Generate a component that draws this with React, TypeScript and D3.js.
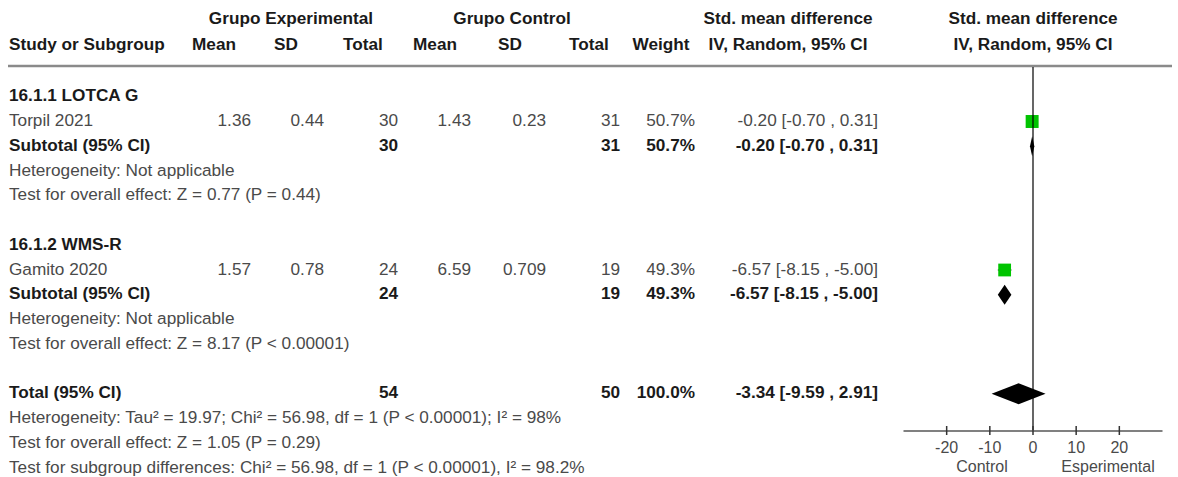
import React from "react";
import * as d3 from "d3";

// Forest plot: standardised mean difference, IV random effects
const subgroupTitles = ["16.1.1 LOTCA G", "16.1.2 WMS-R"];
const studyNames = ["Torpil 2021", "Gamito 2020"];
const expMean = ["1.36", "1.57"];
const expSD = ["0.44", "0.78"];
const expN = [30, 24];
const ctrlMean = ["1.43", "6.59"];
const ctrlSD = ["0.23", "0.709"];
const ctrlN = [31, 19];
const weights = [50.7, 49.3];
const smd = [-0.2, -6.57];
const ciLow = [-0.7, -8.15];
const ciHigh = [0.31, -5.0];
const subgroupHeterogeneity = ["Heterogeneity: Not applicable", "Heterogeneity: Not applicable"];
const subgroupEffect = [
  "Test for overall effect: Z = 0.77 (P = 0.44)",
  "Test for overall effect: Z = 8.17 (P < 0.00001)",
];

const totalExpN = 54;
const totalCtrlN = 50;
const totalWeight = 100.0;
const totalSmd = -3.34;
const totalLow = -9.59;
const totalHigh = 2.91;
const totalNotes = [
  "Heterogeneity: Tau² = 19.97; Chi² = 56.98, df = 1 (P < 0.00001); I² = 98%",
  "Test for overall effect: Z = 1.05 (P = 0.29)",
  "Test for subgroup differences: Chi² = 56.98, df = 1 (P < 0.00001), I² = 98.2%",
];

const axisTicks = [-20, -10, 0, 10, 20];
const axisDomain = [-30, 30];

const W = 1178;
const H = 477;
const FONT = "'Liberation Sans', Arial, Helvetica, sans-serif";
const FS = 17.2;
const AXIS_FS = 16;
const GREY = "#4a4a4a";
const DARK = "#1a1a1a";
const GREEN = "#00c400";

const fmt2 = (v: number) => v.toFixed(2);
const ciText = (m: number, lo: number, hi: number) => `${fmt2(m)} [${fmt2(lo)} , ${fmt2(hi)}]`;

export default function App() {
  const x = d3.scaleLinear().domain(axisDomain).range([903.5, 1162.5]);
  const row = d3.scaleLinear().domain([0, 15]).range([96.75, 468]);
  const boxSize = d3.scaleSqrt().domain([0, 100]).range([0, 18.2]);
  const axisY = 431;

  // right-aligned numeric columns
  const col = {
    expMean: 251,
    expSD: 324,
    expN: 398,
    ctrlMean: 471,
    ctrlSD: 546,
    ctrlN: 620,
    weight: 695,
    ci: 878,
  };

  const base = (r: number) => row(r) + 4.5;

  const T = (props: any) => (
    <text
      fontFamily={FONT}
      fontSize={FS}
      fill={props.bold ? DARK : GREY}
      fontWeight={props.bold ? "bold" : "normal"}
      textAnchor={props.anchor || "start"}
      x={props.x}
      y={props.y}
    >
      {props.children}
    </text>
  );

  const diamond = (m: number, lo: number, hi: number, cy: number, h: number) =>
    `M${x(lo)},${cy} L${x(m)},${cy - h} L${x(hi)},${cy} L${x(m)},${cy + h} Z`;

  const groups = subgroupTitles.map((title, i) => {
    const r0 = i * 6;
    return (
      <g key={title}>
        <T x={9} y={base(r0)} bold>{title}</T>
        <T x={9} y={base(r0 + 1)}>{studyNames[i]}</T>
        <T x={col.expMean} y={base(r0 + 1)} anchor="end">{expMean[i]}</T>
        <T x={col.expSD} y={base(r0 + 1)} anchor="end">{expSD[i]}</T>
        <T x={col.expN} y={base(r0 + 1)} anchor="end">{expN[i]}</T>
        <T x={col.ctrlMean} y={base(r0 + 1)} anchor="end">{ctrlMean[i]}</T>
        <T x={col.ctrlSD} y={base(r0 + 1)} anchor="end">{ctrlSD[i]}</T>
        <T x={col.ctrlN} y={base(r0 + 1)} anchor="end">{ctrlN[i]}</T>
        <T x={col.weight} y={base(r0 + 1)} anchor="end">{weights[i].toFixed(1)}%</T>
        <T x={col.ci} y={base(r0 + 1)} anchor="end">{ciText(smd[i], ciLow[i], ciHigh[i])}</T>

        <T x={9} y={base(r0 + 2)} bold>Subtotal (95% CI)</T>
        <T x={col.expN} y={base(r0 + 2)} anchor="end" bold>{expN[i]}</T>
        <T x={col.ctrlN} y={base(r0 + 2)} anchor="end" bold>{ctrlN[i]}</T>
        <T x={col.weight} y={base(r0 + 2)} anchor="end" bold>{weights[i].toFixed(1)}%</T>
        <T x={col.ci} y={base(r0 + 2)} anchor="end" bold>{ciText(smd[i], ciLow[i], ciHigh[i])}</T>
        <T x={9} y={base(r0 + 3)}>{subgroupHeterogeneity[i]}</T>
        <T x={9} y={base(r0 + 4)}>{subgroupEffect[i]}</T>

        {/* study estimate */}
        <line x1={x(ciLow[i])} x2={x(ciHigh[i])} y1={row(r0 + 1)} y2={row(r0 + 1)} stroke="#000" strokeWidth={1} />
        <rect
          x={x(smd[i]) - boxSize(weights[i]) / 2}
          y={row(r0 + 1) - boxSize(weights[i]) / 2}
          width={boxSize(weights[i])}
          height={boxSize(weights[i])}
          fill={GREEN}
        />
        {/* subgroup pooled estimate */}
        <path d={diamond(smd[i], ciLow[i], ciHigh[i], row(r0 + 2), 10)} fill="#000" />
      </g>
    );
  });

  return (
    <svg
      width={W}
      height={H}
      style={{ position: "absolute", left: 0, top: 0, background: "#fff" }}
    >
      <rect x={0} y={0} width={W} height={H} fill="#fff" />
      {/* header */}
      <T x={291} y={24} anchor="middle" bold>Grupo Experimental</T>
      <T x={512} y={24} anchor="middle" bold>Grupo Control</T>
      <T x={788} y={24} anchor="middle" bold>Std. mean difference</T>
      <T x={1033} y={24} anchor="middle" bold>Std. mean difference</T>
      <T x={9} y={50} bold>Study or Subgroup</T>
      <T x={214} y={50} anchor="middle" bold>Mean</T>
      <T x={286} y={50} anchor="middle" bold>SD</T>
      <T x={363} y={50} anchor="middle" bold>Total</T>
      <T x={435} y={50} anchor="middle" bold>Mean</T>
      <T x={510} y={50} anchor="middle" bold>SD</T>
      <T x={589} y={50} anchor="middle" bold>Total</T>
      <T x={661} y={50} anchor="middle" bold>Weight</T>
      <T x={788} y={50} anchor="middle" bold>IV, Random, 95% CI</T>
      <T x={1033} y={50} anchor="middle" bold>IV, Random, 95% CI</T>
      <line x1={8} x2={1172} y1={66} y2={66} stroke="#8a8a8a" strokeWidth={2.5} />

      {groups}

      {/* overall */}
      <T x={9} y={base(12)} bold>Total (95% CI)</T>
      <T x={col.expN} y={base(12)} anchor="end" bold>{totalExpN}</T>
      <T x={col.ctrlN} y={base(12)} anchor="end" bold>{totalCtrlN}</T>
      <T x={col.weight} y={base(12)} anchor="end" bold>{totalWeight.toFixed(1)}%</T>
      <T x={col.ci} y={base(12)} anchor="end" bold>{ciText(totalSmd, totalLow, totalHigh)}</T>
      {totalNotes.map((t, k) => (
        <T key={k} x={9} y={base(13 + k)}>{t}</T>
      ))}
      <path d={diamond(totalSmd, totalLow, totalHigh, row(12), 10.5)} fill="#000" />

      {/* line of no effect */}
      <line x1={x(0)} x2={x(0)} y1={67} y2={axisY} stroke="#000" strokeWidth={1.2} />

      {/* axis */}
      <line x1={x(axisDomain[0])} x2={x(axisDomain[1])} y1={axisY} y2={axisY} stroke="#808080" strokeWidth={2} />
      {axisTicks.map((t) => (
        <g key={t}>
          <line x1={x(t)} x2={x(t)} y1={axisY - 5} y2={axisY + 4} stroke="#333" strokeWidth={1.5} />
          <text
            x={x(t)}
            y={axisY + 22}
            textAnchor="middle"
            fontFamily={FONT}
            fontSize={AXIS_FS}
            fill={GREY}
          >
            {t}
          </text>
        </g>
      ))}
      <text x={982} y={472} textAnchor="middle" fontFamily={FONT} fontSize={AXIS_FS} fill={GREY}>
        Control
      </text>
      <text x={1108} y={472} textAnchor="middle" fontFamily={FONT} fontSize={AXIS_FS} fill={GREY}>
        Esperimental
      </text>
    </svg>
  );
}
